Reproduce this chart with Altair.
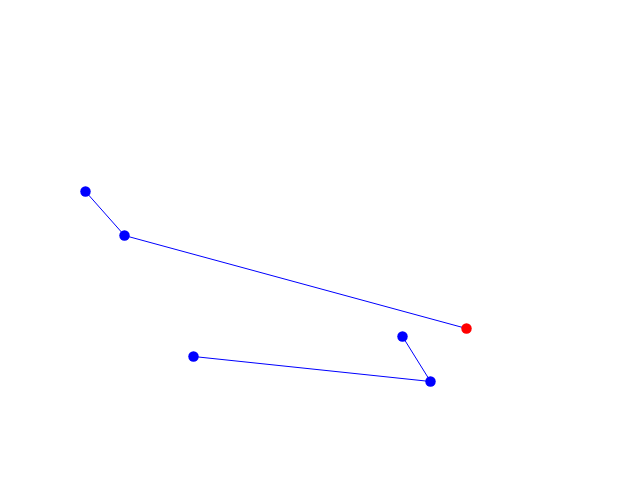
import altair as alt
import pandas as pd

# Values (screen-like units)
series = ["A", "A", "A", "B", "B", "B"]
order = [0, 1, 2, 0, 1, 2]
xs = [85, 124, 466, 402, 430, 193]
ys = [191, 235, 328, 336, 381, 356]
kinds = ["normal", "normal", "current", "normal", "normal", "normal"]

df = pd.DataFrame({"series": series, "order": order, "x": xs, "y": ys, "kind": kinds})

xscale = alt.Scale(domain=[7.5, 631.5], nice=False, zero=False)
yscale = alt.Scale(domain=[471.5, 7.5], nice=False, zero=False)

base = alt.Chart(df)

lines = base.mark_line(color="#0000ff", strokeWidth=1).encode(
    x=alt.X("x:Q", scale=xscale, axis=None),
    y=alt.Y("y:Q", scale=yscale, axis=None),
    detail="series:N",
    order="order:Q",
)

points = base.mark_circle(size=110, opacity=1).encode(
    x=alt.X("x:Q", scale=xscale, axis=None),
    y=alt.Y("y:Q", scale=yscale, axis=None),
    color=alt.Color("kind:N", scale=alt.Scale(domain=["normal", "current"], range=["#0000ff", "#ff0000"]), legend=None),
)

chart = (lines + points).properties(width=624, height=464, padding=0).configure_view(stroke=None)

chart.save("out.html", embed_options={"renderer": "svg", "actions": False})
